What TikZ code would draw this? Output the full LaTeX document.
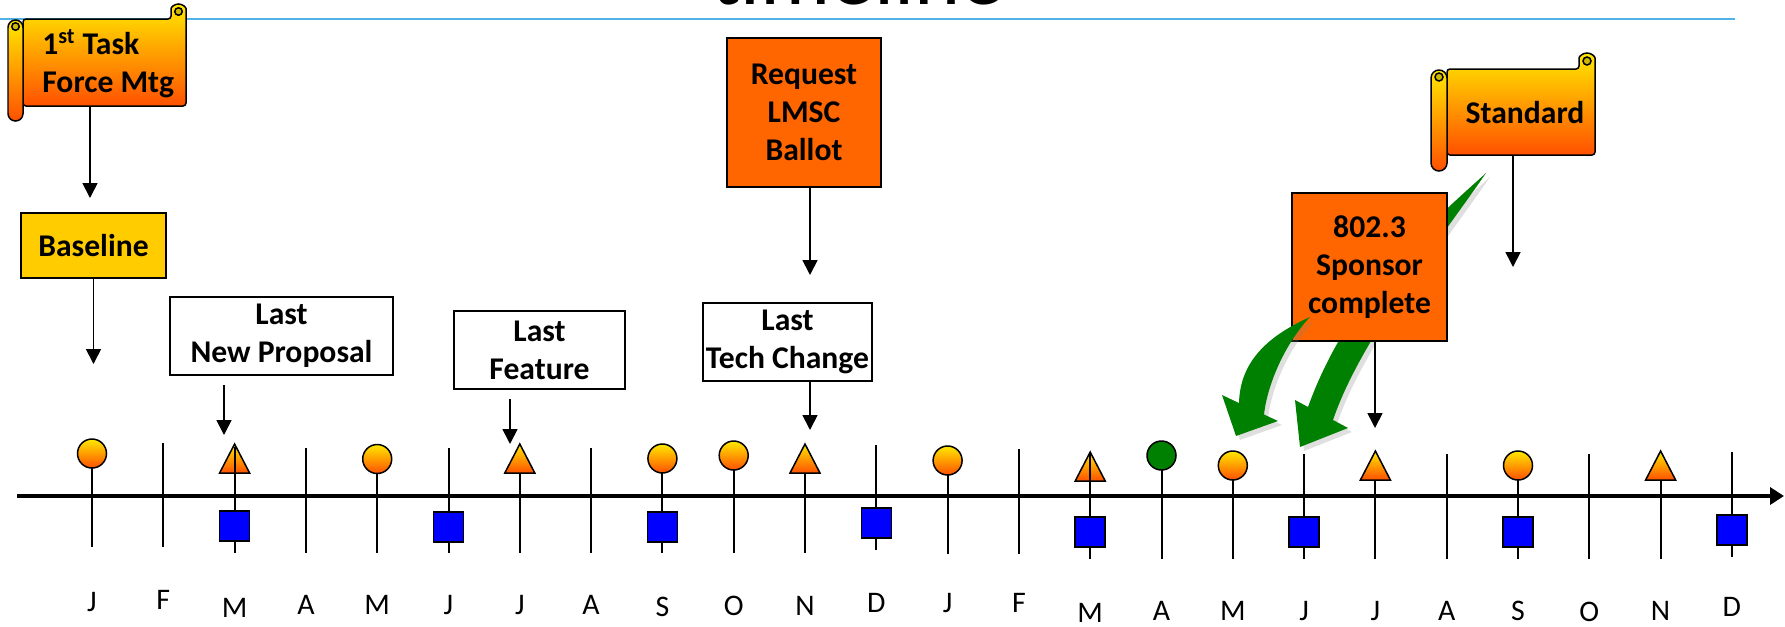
\documentclass[tikz,border=0pt]{standalone}
\usepackage{fontspec}
\setmainfont{Carlito}
\usetikzlibrary{arrows.meta,shadows}

\definecolor{goldtop}{RGB}{255,232,0}
\definecolor{goldbot}{RGB}{255,80,0}
\definecolor{curlgold}{RGB}{205,185,0}
\definecolor{basegold}{RGB}{255,204,0}
\definecolor{ballotorange}{RGB}{255,102,0}
\definecolor{squareblue}{RGB}{0,0,255}
\definecolor{arrowgreen}{RGB}{0,128,0}
\definecolor{rulecyan}{RGB}{80,178,230}

% scroll banner: left, top, right, bottom, roll width (in px)
\newcommand{\drawscroll}[5]{%
  \draw[scrollline, top color=goldtop, bottom color=goldbot, rounded corners=0.06cm]
    (#1+#5,#2) -- (#3-#5,#2) -- (#3-#5,#2-#5/2)
    arc[start angle=180, end angle=360, radius=#5/2] -- (#3,#4) -- (#1+#5,#4) -- cycle;
  \draw[scrollline, fill=curlgold] (#3-#5/2,#2-#5/2) circle[radius=#5/4];
  \draw[scrollline, top color=goldtop, bottom color=goldbot, rounded corners=#5*0.01cm]
    (#1,#2+1) rectangle (#1+#5,#4+#5);
  \draw[scrollline, fill=curlgold] (#1+#5/2,#2+#5/2) circle[radius=#5/4];
}

\begin{document}
\begin{tikzpicture}[x=0.02cm, y=-0.02cm,
    scrollline/.style={draw=black, line width=0.03cm},
    label box/.style={draw=black, line width=0.035cm, inner sep=0pt, align=center, font=\boxfontsize\bfseries},
    pointer/.style={line width=0.035cm, -{Triangle[length=0.3cm,width=0.3cm]}},
    tick/.style={line width=0.04cm},
    marker/.style={draw=black, line width=0.03cm, inner sep=0pt},
    green arrow/.style={fill=arrowgreen, drop shadow={shadow xshift=0.08cm, shadow yshift=-0.08cm, opacity=0.25}}]
    \pgfmathsetmacro{\firstmonth}{92}
    \pgfmathsetmacro{\monthstep}{71.3}
    \pgfmathsetmacro{\axisy}{496}
    \providecommand{\boxfontsize}{\fontsize{18}{21.6}\selectfont}
    \providecommand{\monthfontsize}{\fontsize{17}{20}\selectfont}
    \useasboundingbox (0,0) rectangle (1785,626);
    \clip (0,0) rectangle (1785,626);

    % heading, cut off at the top of the slide
    \node[anchor=base, font=\fontsize{50}{60}\selectfont] (heading) at (858,4.5) {timeline};
    \draw[rulecyan, line width=0.04cm] (0,19) -- (1735,19);

    % scrolls
    \drawscroll{8}{19}{186}{106}{15}
    \node[anchor=west, align=left, inner sep=0pt, font=\boxfontsize\bfseries] (taskforce) at (42,63.5) {1\textsuperscript{st} Task\\Force Mtg};
    \drawscroll{1431}{69}{1595}{155}{16}
    \node[font=\boxfontsize\bfseries] (standard) at (1525,113) {Standard};

    % boxes
    \node[label box, fill=basegold, minimum width=2.9cm, minimum height=1.3cm] (baseline) at (93.5,245.5) {Baseline};
    \node[label box, fill=white, minimum width=4.46cm, minimum height=1.56cm] (newproposal) at (281.5,336) {Last\\New Proposal};
    \node[label box, fill=white, minimum width=3.42cm, minimum height=1.56cm] (lastfeature) at (539.5,350) {Last\\Feature};
    \node[label box, fill=white, minimum width=3.38cm, minimum height=1.56cm] (techchange) at (787.5,342) {Last\\Tech Change};
    \node[label box, fill=ballotorange, minimum width=3.08cm, minimum height=2.98cm] (lmscballot) at (804,112.5) {Request\\LMSC\\Ballot};

    % green arrow behind the sponsor box
    \fill[green arrow] (1486,173) .. controls (1440,215) and (1350,290) .. (1308,407) -- (1295,400) -- (1300,447) -- (1348,428) -- (1333,420) .. controls (1360,340) and (1440,240) .. (1486,173) -- cycle;
    \node[label box, fill=ballotorange, minimum width=3.1cm, minimum height=2.96cm] (sponsor) at (1369.5,267) {802.3\\Sponsor\\complete};
    \fill[green arrow] (1310,317) .. controls (1270,335) and (1240,360) .. (1239,403) -- (1222,395) -- (1236,436) -- (1278,421) -- (1264,414.5) .. controls (1268,380) and (1288,340) .. (1310,317) -- cycle;

    % pointers
    \coordinate (tfbottom) at (90,106);
    \coordinate (tfend) at (90,198);
    \coordinate (blend) at (93.5,364);
    \coordinate (npstart) at (224,385);
    \coordinate (npend) at (224,435);
    \coordinate (lfstart) at (510,399);
    \coordinate (lfend) at (510,444);
    \coordinate (tcend) at (810,430);
    \coordinate (lbend) at (810,275);
    \coordinate (spend) at (1375,428);
    \coordinate (stbottom) at (1513,155);
    \coordinate (stend) at (1513,267);
    \draw[pointer] (tfbottom) -- (tfend);
    \draw[pointer] (baseline.south) -- (blend);
    \draw[pointer] (npstart) -- (npend);
    \draw[pointer] (lfstart) -- (lfend);
    \draw[pointer] (techchange.south -| tcend) -- (tcend);
    \draw[pointer] (lmscballot.south -| lbend) -- (lbend);
    \draw[pointer] (sponsor.south -| spend) -- (spend);
    \draw[pointer] (stbottom) -- (stend);

    % month ticks and axis
    \foreach \i/\top/\bot in {0/447/547,1/443/547,2/447/553,3/448/553,4/447/553,5/448/553,6/447/553,7/448/553,8/447/553,9/447/553,10/447/553,11/445/550,12/449/554,13/449/554,14/452/559,15/449/559,16/454/559,17/454/559,18/454/559,19/454/559,20/454/559,21/454/559,22/454/559,23/452/557}
        \draw[tick] (\firstmonth+\i*\monthstep,\top) -- (\firstmonth+\i*\monthstep,\bot);
    \coordinate (axisstart) at (17,\axisy);
    \coordinate (axisend) at (1784,\axisy);
    \draw[line width=0.09cm, -{Triangle[length=0.28cm,width=0.34cm]}] (axisstart) -- (axisend);

    % markers
    \foreach \i/\y in {0/453.5,4/459,8/458.5,9/455.5,12/460.5,16/465.5,20/465.5}
        \node[marker, circle, minimum size=0.58cm, top color=goldtop, bottom color=goldbot] (dot\i) at (\firstmonth+\i*\monthstep,\y) {};
    \node[marker, circle, minimum size=0.58cm, fill=arrowgreen] (dot15) at (\firstmonth+15*\monthstep,455.5) {};
    \foreach \i/\y in {2/444,6/444,10/444,14/452,18/451,22/451}
        \draw[marker, top color=goldtop, bottom color=goldbot] (\firstmonth+\i*\monthstep-15,\y+29) -- (\firstmonth+\i*\monthstep,\y) -- (\firstmonth+\i*\monthstep+15,\y+29) -- cycle;
    \foreach \i/\top in {2/447,14/452}
        \draw[tick] (\firstmonth+\i*\monthstep,\top) -- (\firstmonth+\i*\monthstep,\axisy);
    \foreach \i/\y in {2/526,5/527,8/527,11/523,14/532,17/532,20/532,23/530}
        \node[marker, rectangle, minimum size=0.6cm, fill=squareblue] (square\i) at (\firstmonth+\i*\monthstep,\y) {};

    % month letters
    \foreach \i/\m/\y in {0/J/602,1/F/600,2/M/608,3/A/605,4/M/605,5/J/605,6/J/605,7/A/605,8/S/607,9/O/606,10/N/606,11/D/603,12/J/603,13/F/603,14/M/613,15/A/611,16/M/611,17/J/611,18/J/611,19/A/611,20/S/611,21/O/612,22/N/611,23/D/607}
        \node[anchor=base, inner sep=0pt, font=\monthfontsize] (month\i) at (\firstmonth+\i*\monthstep,\y+9) {\m};
\end{tikzpicture}
\end{document}
